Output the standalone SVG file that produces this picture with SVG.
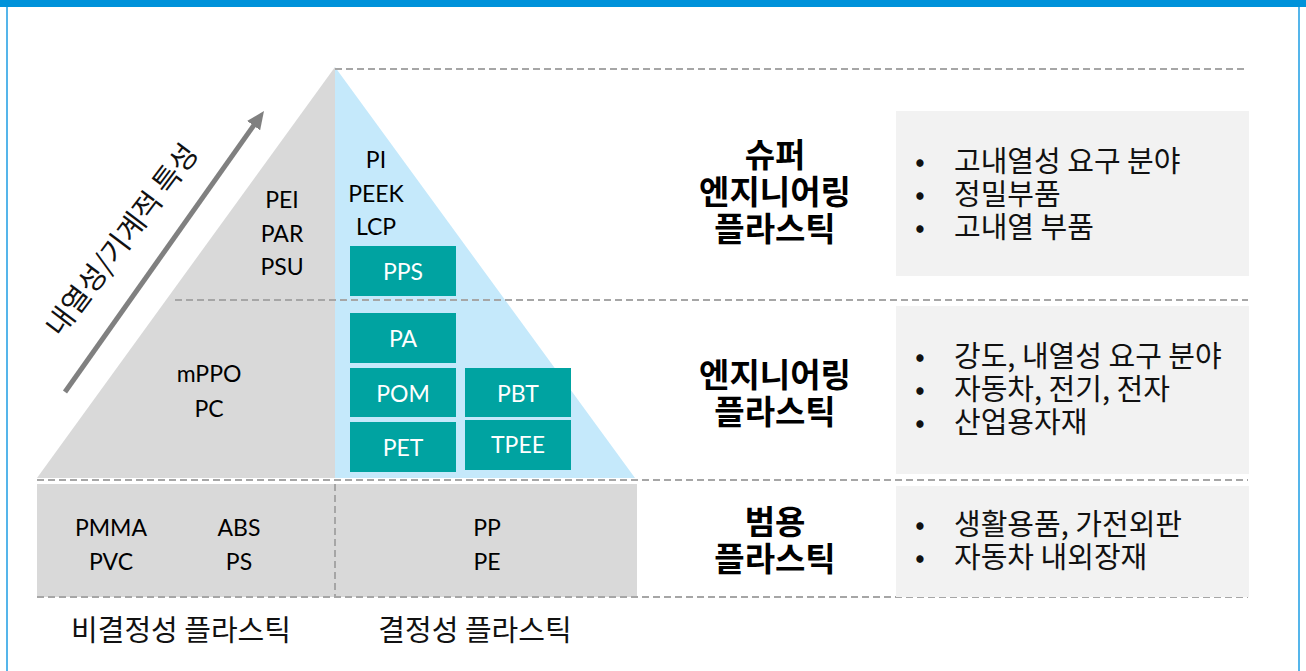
<svg xmlns="http://www.w3.org/2000/svg" width="1306" height="671" viewBox="0 0 1306 671">
<style>
.lat{font-family:Lato,"Noto Sans",sans-serif;font-size:23px;fill:#000;text-anchor:middle}
.wt{fill:#fff}
.kr{font-family:"Noto Sans CJK KR",sans-serif;font-size:29px;fill:#111}
.kb{font-family:"Noto Sans CJK KR",sans-serif;font-size:33px;font-weight:bold;fill:#000;text-anchor:middle}
.dash{stroke:#A6A6A6;stroke-width:2;stroke-dasharray:7 4;fill:none}
.teal{fill:#00A3A1}
.panel{fill:#F2F2F2}
</style>
<defs>
<marker id="ah" markerWidth="20" markerHeight="16" refX="4" refY="8" orient="auto" markerUnits="userSpaceOnUse"><path d="M0,0 L18,8 L0,16 z" fill="#808080"/></marker>
</defs>
<rect width="1306" height="671" fill="#fff"/>
<g id="frame">
<rect x="0" y="0" width="1306" height="7" fill="#0092DA"/>
<line x1="7" y1="7" x2="7" y2="671" stroke="#55B5EA" stroke-width="2"/>
<line x1="1299" y1="7" x2="1299" y2="671" stroke="#55B5EA" stroke-width="2"/>
</g>
<g id="pyramid">
<polygon points="335,67 37,478 335,478" fill="#D9D9D9"/>
<polygon points="335,67 635,478 335,478" fill="#C5E9FB"/>
<rect x="37" y="484" width="600" height="113" fill="#D9D9D9"/>
</g>
<g id="connectors">
<line class="dash" x1="335" y1="69" x2="1245" y2="69"/>
<line class="dash" x1="175" y1="300" x2="1248" y2="300"/>
<line class="dash" x1="37" y1="480" x2="1248" y2="480"/>
<line class="dash" x1="37" y1="597" x2="1248" y2="597"/>
<line class="dash" x1="335" y1="484" x2="335" y2="597"/>
<line x1="65" y1="392" x2="255.9" y2="122.4" stroke="#808080" stroke-width="5" marker-end="url(#ah)"/>
</g>
<g id="axis-label">
<text class="kr" transform="translate(122,240) rotate(-53)" text-anchor="middle" y="10">내열성/기계적 특성</text>
</g>
<g id="super-amorphous">
<text class="lat"><tspan x="282" y="208">PEI</tspan><tspan x="282" y="242">PAR</tspan><tspan x="282" y="275">PSU</tspan></text>
</g>
<g id="super-crystalline">
<text class="lat"><tspan x="376" y="168">PI</tspan><tspan x="376" y="202">PEEK</tspan><tspan x="376" y="235">LCP</tspan></text>
</g>
<g id="node-pps"><rect class="teal" x="350" y="246" width="106" height="50"/><text class="lat wt" x="403" y="280">PPS</text></g>
<g id="eng-amorphous">
<text class="lat"><tspan x="209" y="382">mPPO</tspan><tspan x="209" y="417">PC</tspan></text>
</g>
<g id="node-pa"><rect class="teal" x="350" y="313" width="106" height="50"/><text class="lat wt" x="403" y="347">PA</text></g>
<g id="node-pom"><rect class="teal" x="350" y="368" width="106" height="49"/><text class="lat wt" x="403" y="402">POM</text></g>
<g id="node-pet"><rect class="teal" x="350" y="422" width="106" height="50"/><text class="lat wt" x="403" y="456">PET</text></g>
<g id="node-pbt"><rect class="teal" x="465" y="368" width="106" height="49"/><text class="lat wt" x="518" y="402">PBT</text></g>
<g id="node-tpee"><rect class="teal" x="465" y="420" width="106" height="50"/><text class="lat wt" x="518" y="453">TPEE</text></g>
<g id="general-amorphous">
<text class="lat"><tspan x="111" y="536">PMMA</tspan><tspan x="111" y="570">PVC</tspan></text>
<text class="lat"><tspan x="239" y="536">ABS</tspan><tspan x="239" y="570">PS</tspan></text>
</g>
<g id="general-crystalline">
<text class="lat"><tspan x="487" y="536">PP</tspan><tspan x="487" y="570">PE</tspan></text>
</g>
<g id="bottom-labels">
<text class="kr" x="181" y="641" text-anchor="middle">비결정성 플라스틱</text>
<text class="kr" x="475" y="641" text-anchor="middle">결정성 플라스틱</text>
</g>
<g id="cat-super">
<text class="kb"><tspan x="775" y="167">슈퍼</tspan><tspan x="775" y="204">엔지니어링</tspan><tspan x="775" y="241">플라스틱</tspan></text>
</g>
<g id="cat-eng">
<text class="kb"><tspan x="775" y="387">엔지니어링</tspan><tspan x="775" y="424">플라스틱</tspan></text>
</g>
<g id="cat-general">
<text class="kb"><tspan x="775" y="534">범용</tspan><tspan x="775" y="571">플라스틱</tspan></text>
</g>
<g id="desc-super">
<rect class="panel" x="896" y="111" width="353" height="165"/>
<text class="kr" text-anchor="middle"><tspan x="920" y="172">•</tspan><tspan x="920" y="205">•</tspan><tspan x="920" y="238">•</tspan></text>
<text class="kr"><tspan x="954" y="172">고내열성 요구 분야</tspan><tspan x="954" y="205">정밀부품</tspan><tspan x="954" y="238">고내열 부품</tspan></text>
</g>
<g id="desc-eng">
<rect class="panel" x="896" y="306" width="353" height="168"/>
<text class="kr" text-anchor="middle"><tspan x="920" y="367">•</tspan><tspan x="920" y="400">•</tspan><tspan x="920" y="433">•</tspan></text>
<text class="kr"><tspan x="954" y="367">강도, 내열성 요구 분야</tspan><tspan x="954" y="400">자동차, 전기, 전자</tspan><tspan x="954" y="433">산업용자재</tspan></text>
</g>
<g id="desc-general">
<rect class="panel" x="896" y="486" width="353" height="111"/>
<text class="kr" text-anchor="middle"><tspan x="920" y="535">•</tspan><tspan x="920" y="568">•</tspan></text>
<text class="kr"><tspan x="954" y="535">생활용품, 가전외판</tspan><tspan x="954" y="568">자동차 내외장재</tspan></text>
</g>
</svg>
